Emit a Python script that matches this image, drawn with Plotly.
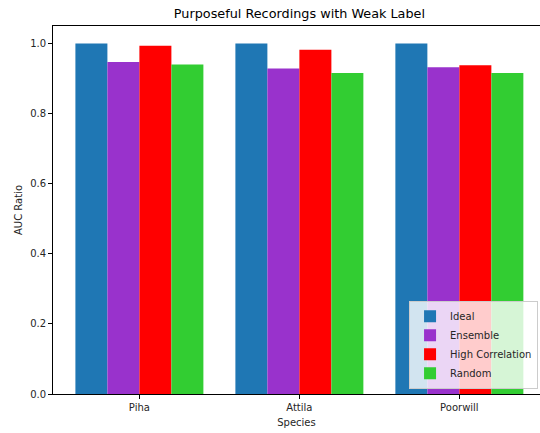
import plotly.graph_objects as go

species = ["Piha", "Attila", "Poorwill"]
ideal = [1.0, 1.0, 1.0]
ensemble = [0.947, 0.929, 0.932]
high_corr = [0.994, 0.982, 0.938]
random_sel = [0.940, 0.916, 0.916]

series = [
    ("Ideal", ideal, "#1f77b4"),
    ("Ensemble", ensemble, "#9932CC"),
    ("High Correlation", high_corr, "#FF0000"),
    ("Random", random_sel, "#32CD32"),
]

fig = go.Figure()
for name, vals, color in series:
    fig.add_trace(go.Bar(
        x=species, y=vals, name=name,
        marker=dict(color=color, line=dict(width=0)),
    ))

font = "DejaVu Sans, Arial, sans-serif"
fig.update_layout(
    width=540, height=433,
    margin=dict(l=53, r=0, t=26, b=39),
    paper_bgcolor="white", plot_bgcolor="white",
    barmode="group", bargap=0.2, bargroupgap=0,
    font=dict(family=font, size=10, color="#262626"),
    title=dict(text="Purposeful Recordings with Weak Label",
               x=0.506, xanchor="center", xref="paper",
               y=1 - 14 / 433, yref="container", yanchor="middle",
               font=dict(size=12.8, color="#000000")),
    xaxis=dict(
        range=[-0.54, 2.504], showgrid=False, zeroline=False,
        showline=True, linecolor="#000000", linewidth=0.8, mirror=True,
        ticks="outside", ticklen=4, tickwidth=0.8, tickcolor="#000000",
        title=dict(text="Species", standoff=7, font=dict(size=10)),
    ),
    yaxis=dict(
        range=[0, 1.05], showgrid=False, zeroline=False,
        showline=True, linecolor="#000000", linewidth=0.8, mirror=False,
        ticks="outside", ticklen=4, tickwidth=0.8, tickcolor="#000000",
        tickvals=[0, 0.2, 0.4, 0.6, 0.8, 1.0], tickformat=".1f",
        title=dict(text="AUC Ratio", standoff=5, font=dict(size=10)),
    ),
    legend=dict(
        x=0.996, y=0.014, xanchor="right", yanchor="bottom",
        bgcolor="rgba(255,255,255,0.8)", bordercolor="#cccccc", borderwidth=1,
        font=dict(size=10, color="#262626"), tracegroupgap=0,
        itemwidth=30,
    ),
)

fig.write_html("out.html")
